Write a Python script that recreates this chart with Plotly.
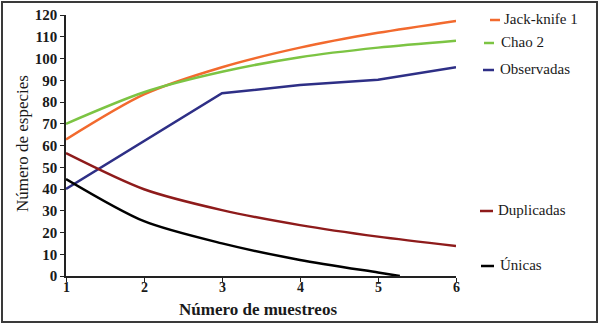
import plotly.graph_objects as go

# ---- data ----
muestreos = [1, 2, 3, 4, 5, 6]
jackknife1 = [62.8, 83.5, 96.0, 105.0, 111.8, 117.3]
chao2 = [70.0, 84.5, 93.9, 100.6, 105.0, 108.2]
observadas = [40.0, 62.0, 84.0, 87.8, 90.2, 96.0]
duplicadas = [56.5, 39.9, 30.3, 23.4, 18.1, 13.8]
unicas_x = [1, 2, 3, 4, 5, 5.28]
unicas = [44.6, 25.2, 15.0, 7.4, 1.6, 0.0]

y_ticks = [0, 10, 20, 30, 40, 50, 60, 70, 80, 90, 100, 110, 120]
x_ticks = [1, 2, 3, 4, 5, 6]

series = [
    ("Jack-knife 1", muestreos, jackknife1, "#F26A2E", "spline"),
    ("Chao 2", muestreos, chao2, "#7CC443", "spline"),
    ("Observadas", muestreos, observadas, "#2E2F86", "linear"),
    ("Duplicadas", muestreos, duplicadas, "#8E1B1B", "spline"),
    ("Únicas", unicas_x, unicas, "#000000", "spline"),
]

FONT = "Liberation Serif, Times New Roman, serif"
W, H = 600, 327
L, R, T, B = 66, 144, 15, 51
PW, PH = W - L - R, H - T - B


def px(x):
    return (x - L) / PW


def py(y):
    return (H - B - y) / PH


fig = go.Figure()
for name, xs, ys, col, shape in series:
    fig.add_trace(go.Scatter(x=xs, y=ys, mode="lines", name=name,
                             line=dict(color=col, width=2.5, shape=shape, smoothing=0.8),
                             showlegend=False, cliponaxis=False, hoverinfo="skip"))

# custom legend at right
legend_pos = [
    ("Jack-knife 1", 490, 500, 502, 20, "#F26A2E"),
    ("Chao 2", 484, 494, 499, 43, "#7CC443"),
    ("Observadas", 483, 494, 498, 70, "#2E2F86"),
    ("Duplicadas", 480, 493, 496, 211, "#8E1B1B"),
    ("Únicas", 481, 494, 498, 266, "#000000"),
]
shapes = []
annotations = []
for name, x0, x1, tx, yy, col in legend_pos:
    shapes.append(dict(type="line", xref="paper", yref="paper",
                       x0=px(x0), x1=px(x1), y0=py(yy), y1=py(yy),
                       line=dict(color=col, width=2.5)))
    annotations.append(dict(xref="paper", yref="paper", x=px(tx), y=py(yy - 1),
                            xanchor="left", yanchor="middle", showarrow=False,
                            text=name, font=dict(family=FONT, size=15, color="#1a1a1a")))

# x tick labels (placed closer to the axis, as in the reference)
for v in x_ticks:
    annotations.append(dict(xref="x", yref="paper", x=v, y=py(287),
                            xanchor="center", yanchor="middle", showarrow=False,
                            text=f"<b>{v}</b>", borderpad=0,
                            font=dict(family=FONT, size=14, color="#1a1a1a")))

# axis titles
annotations.append(dict(xref="paper", yref="paper", x=px(258), y=py(309),
                        xanchor="center", yanchor="middle", showarrow=False, borderpad=0,
                        text="<b>Número de muestreos</b>",
                        font=dict(family=FONT, size=17, color="#1a1a1a")))
annotations.append(dict(xref="paper", yref="paper", x=px(22), y=py(144),
                        xanchor="center", yanchor="middle", showarrow=False, textangle=-90,
                        text="Número de especies",
                        font=dict(family=FONT, size=17, color="#1a1a1a")))

# outer frame
shapes.append(dict(type="rect", xref="paper", yref="paper",
                   x0=px(2), x1=px(597), y0=py(322), y1=py(2),
                   line=dict(color="#3a3a3a", width=2), layer="below"))

fig.update_layout(
    width=W, height=H,
    margin=dict(l=L, r=R, t=T, b=B, autoexpand=False),
    paper_bgcolor="white", plot_bgcolor="white",
    shapes=shapes, annotations=annotations,
    font=dict(family=FONT, color="#1a1a1a"),
    xaxis=dict(range=[1, 6], tickvals=x_ticks, showticklabels=False,
               automargin=False,
               showgrid=False, zeroline=False, showline=True, linecolor="#222",
               linewidth=1.5, ticks="outside", ticklen=4, tickcolor="#222"),
    yaxis=dict(range=[0, 120], tickvals=y_ticks, ticktext=[str(v) for v in y_ticks],
               automargin=False,
               showgrid=False, zeroline=False, showline=True, linecolor="#222",
               linewidth=1.5, ticks="outside", ticklen=4, tickcolor="#222",
               tickfont=dict(family=FONT, size=15, color="#1a1a1a", weight="bold")),
)

fig.write_html("out.html", config={"displayModeBar": False},
               post_script="document.body.style.margin='0';document.body.style.overflow='hidden';")
